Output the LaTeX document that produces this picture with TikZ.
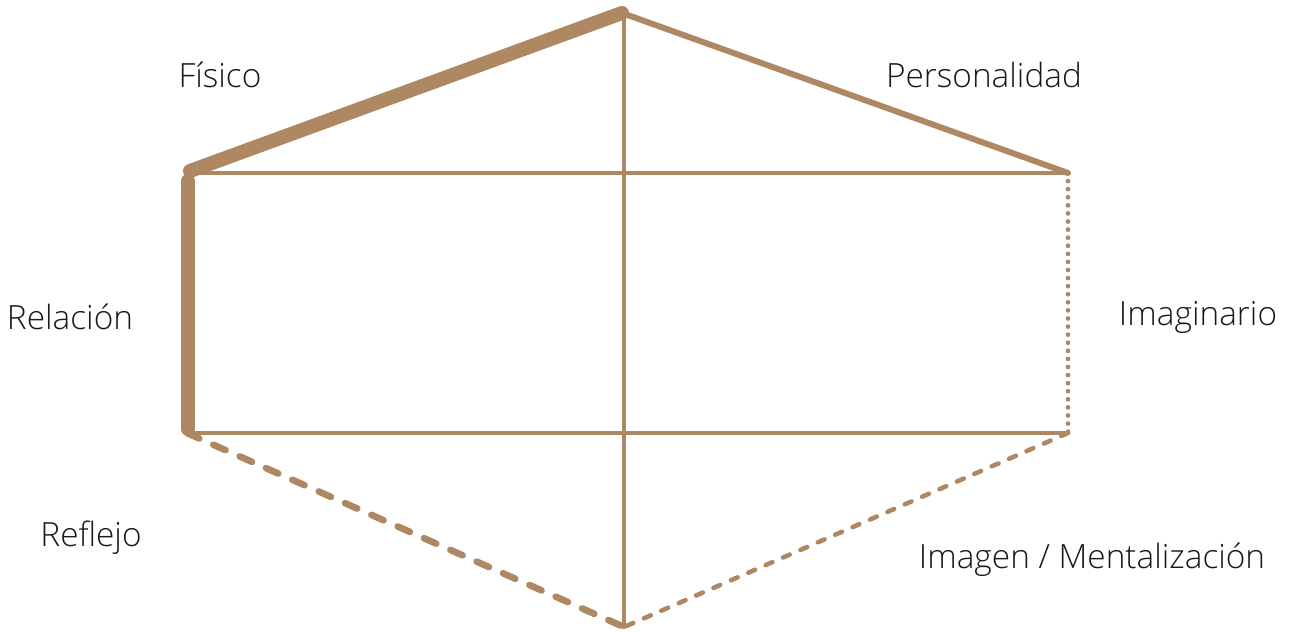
\documentclass[tikz,border=0pt]{standalone}
\usepackage{fontspec}
\setmainfont{Open Sans Light}
\usepackage{tikz}
\usetikzlibrary{calc}
\definecolor{bronze}{RGB}{173,136,99}

\begin{document}
\begin{tikzpicture}[
  x=0.02cm,y=-0.02cm,
  every node/.style={font=\fontsize{19}{23}\selectfont,text=black!90},
  edge/.style={draw=bronze,line cap=round,line join=round},
  heavy/.style={edge,line width=8pt},
  mid/.style={edge,line width=3.4pt},
  thin/.style={edge,line width=2.5pt},
  longdash/.style={edge,line width=3.8pt,dash pattern=on 7.6pt off 8.8pt},
  shortdash/.style={edge,line width=2.6pt,dash pattern=on 4.2pt off 6.6pt},
  dots/.style={edge,line width=2.7pt,dash pattern=on 0pt off 4.6pt}
]
\useasboundingbox (0,0) rectangle (1290,632);

\coordinate (top) at (622,13);
\coordinate (ul) at (190,171);
\coordinate (ur) at (1068,173);
\coordinate (ll) at (187,433);
\coordinate (lr) at (1068,433);
\coordinate (bot) at (624,627);

% inner cross
\draw[thin] (190,173) -- (ur);
\draw[thin] (ll) -- (lr);
\draw[thin] (624,13) -- (bot);

% outline
\draw[heavy] (top) -- (ul);
\draw[heavy] (188,181) -- (188,429);
\draw[mid] (top) -- (ur);
\draw[dots] (ur) -- (lr);
\draw[longdash] (ll) -- (bot);
\draw[shortdash] (lr) -- (bot);

\node (fis) at (220,75) {Físico};
\node (per) at (984,75) {Personalidad};
\node (rel) at (70,317) {Relación};
\node (ima) at (1198,317) {Imaginario};
\node (ref) at (91,538) {Reflejo};
\node (men) at (1092,560) {Imagen / Mentalización};

\end{tikzpicture}
\end{document}
